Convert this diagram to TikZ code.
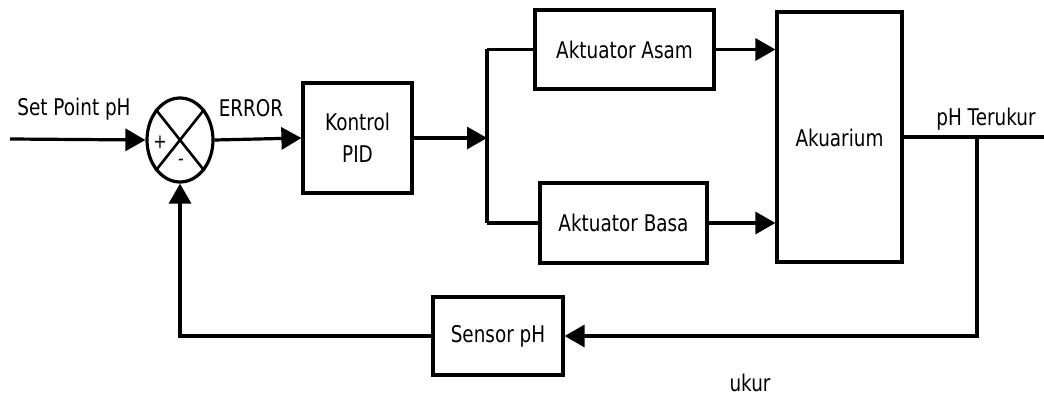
\documentclass[tikz,border=0pt]{standalone}
\usepackage{fontspec}
\setmainfont{DejaVu Sans}[FakeStretch=0.8]
\usetikzlibrary{shapes.geometric,arrows.meta}
\begin{document}
\begin{tikzpicture}[x=1pt,y=-1pt,
  every node/.style={font=\fontsize{23}{27}\selectfont, text=black},
  blockbox/.style={draw, line width=3.2pt, rectangle, inner sep=0pt, align=center},
  conn/.style={line width=3.2pt},
  arr/.style={conn, -{Triangle[length=20pt,width=22pt]}},
  lbl/.style={inner sep=0pt}]
\useasboundingbox[fill=white] (0,0) rectangle (1044,398);
% summing junction
\node[draw, ellipse, line width=3.2pt, minimum width=66pt, minimum height=84pt, inner sep=0pt] (sum) at (180,140) {};
\draw[line width=2.6pt] (sum.north west) -- (sum.south east);
\draw[line width=2.6pt] (sum.north east) -- (sum.south west);
\node[lbl, font=\fontsize{20}{22}\selectfont] (plus) at (160,142) {+};
\node[lbl, font=\fontsize{20}{22}\selectfont] (minus) at (181,162) {-};
% blocks
\node[blockbox, minimum width=109pt, minimum height=110pt] (pid) at (357.5,138) {Kontrol\\[5pt]PID};
\node[blockbox, minimum width=179pt, minimum height=79pt] (asam) at (624.5,49.5) {Aktuator Asam};
\node[blockbox, minimum width=167pt, minimum height=80pt] (basa) at (623.5,223) {Aktuator Basa};
\node[blockbox, minimum width=125pt, minimum height=250pt] (aku) at (839.5,137) {};
\node[lbl] (akutext) at (839.5,138) {Akuarium};
\node[blockbox, minimum width=130pt, minimum height=78pt] (sensor) at (498,336) {Sensor pH};
% labels
\node[lbl] (sp) at (74,109) {Set Point pH};
\node[lbl] (err) at (251,108) {ERROR};
\node[lbl] (meas) at (986,119) {pH Terukur};
\node[lbl] (ukur) at (750,383) {ukur};
% coordinates
\coordinate (in) at (10,139);
\coordinate (split) at (487,138);
\coordinate (splittop) at (487,49.5);
\coordinate (splitbot) at (487,223);
\coordinate (out) at (1044,137);
\coordinate (tap) at (977,137);
% connectors
\draw[arr] (in) -- (sum.west);
\draw[arr] (sum.east) -- (pid.west);
\draw[arr] (pid.east) -- (split);
\draw[conn] (splittop) -- (splitbot);
\draw[conn] (splittop) -- (asam.west);
\draw[conn] (splitbot) -- (basa.west);
\draw[arr] (asam.east) -- (aku.west |- asam.east);
\draw[arr] (basa.east) -- (aku.west |- basa.east);
\draw[conn] (aku.east |- out) -- (out);
\draw[arr] (tap) |- (sensor.east);
\draw[arr] (sensor.west) -| (sum.south);
\end{tikzpicture}
\end{document}
